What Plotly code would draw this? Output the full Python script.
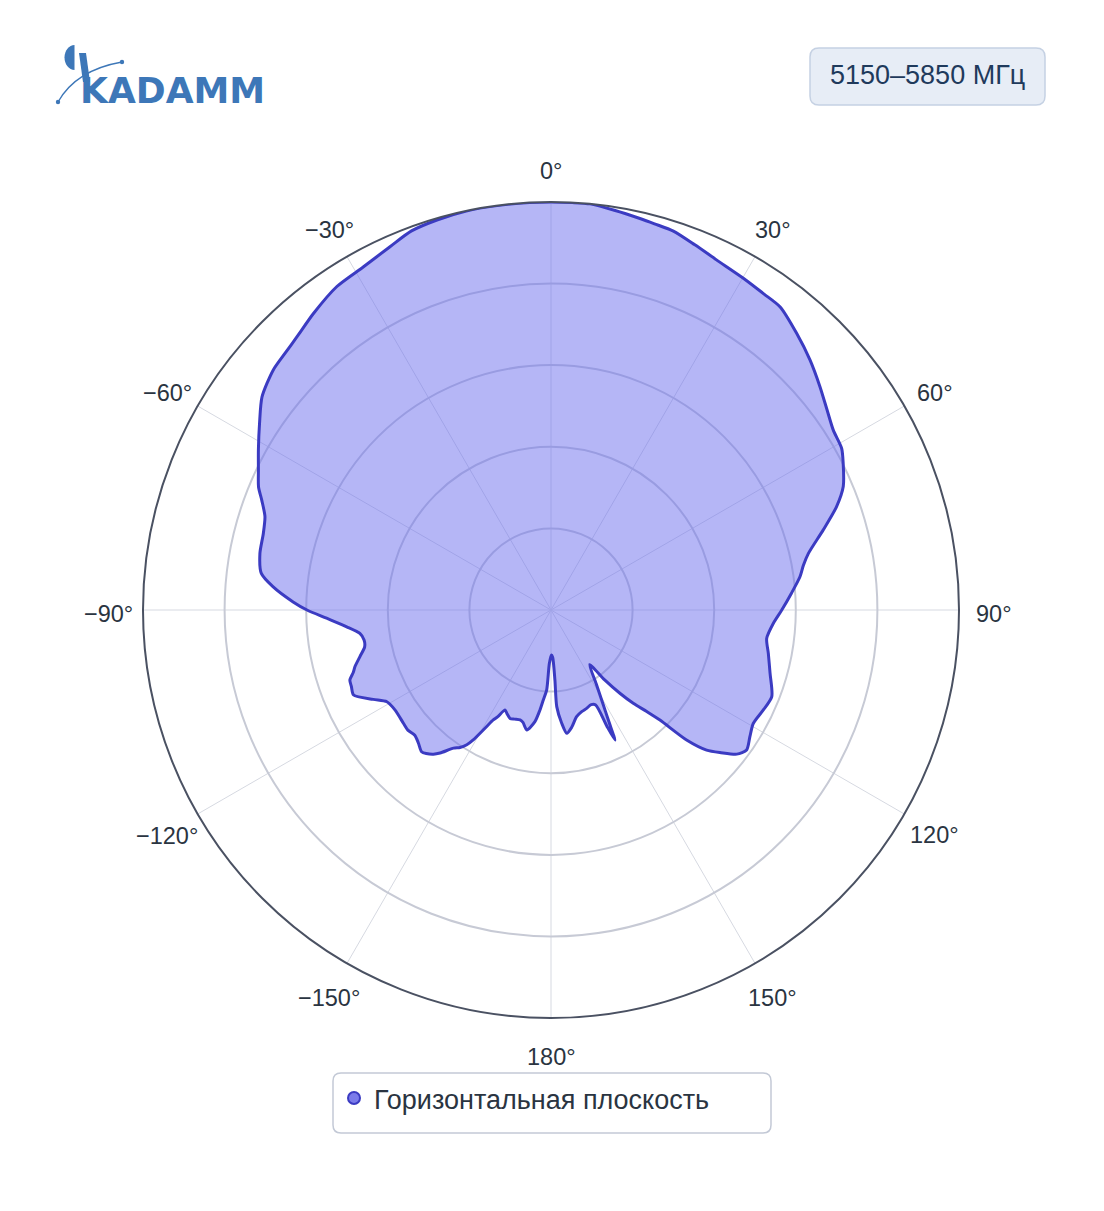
import math
import plotly.graph_objects as go

W, H = 1104, 1211

# ---- data (gain, dB, normalised) ----
theta_right = [0, 3, 5.5, 9, 12.8, 15, 17.9, 21.5, 25.3, 30.1, 34, 37.1, 41.6, 46, 50.3, 54, 57.5,
               60.9, 63.3, 67.1, 70.1, 73.6, 77.6, 80, 82.4, 86, 90, 93.4, 97.5, 101.3, 106.1, 111.4,
               115.2, 119.3, 122.5, 125.6, 127.8, 130, 132, 133.8, 135.3, 136.7, 138.6, 140.4, 142.5,
               144.7, 148.5, 150.9, 152.6, 153.8, 154.3, 154.8, 157, 160.1, 163, 166.5, 170, 172.7,
               174.6, 176.6, 176.8, 178, 179.5]
gain_right = [0, 0, 0, -0.2, -0.4, -0.5, -0.6, -0.95, -1.27, -1.5, -1.65, -1.72, -2.33, -2.94, -3.58,
              -4.1, -4.49, -4.62, -4.96, -5.56, -6.39, -7.61, -8.85, -9.3, -9.61, -10.23, -10.86,
              -11.35, -11.67, -11.42, -11.03, -10.47, -10.62, -10.79, -10.55, -10.26, -10.59, -11.4,
              -12.17, -13.49, -15.51, -16.45, -17.38, -18.38, -19.6, -20.9, -19.7, -18.5, -17.3,
              -16.12, -17.1, -18.57, -18.7, -18.59, -18.5, -18.28, -17.7, -17.38, -18.03, -19.07,
              -20.7, -22.1, -22.24]
theta_left = [-178.2, -176.9, -175.1, -173.7, -171.8, -168.6, -166, -164.3, -161.5, -159.3, -157,
              -155.3, -153.5, -152.3, -151.1, -149.1, -148, -146.5, -144.8, -142.2, -140.8, -139,
              -137.6, -135, -132.6, -130, -127.5, -122.7, -119.2, -116.7, -113.3, -111, -109.2,
              -107.5, -106.1, -103.7, -101.2, -99.1, -97, -94.7, -92.1, -90, -88.2, -85.2, -82.8,
              -79, -75.1, -71.9, -69.2, -67.2, -64.4, -61.3, -57.4, -53.6, -49.2, -46, -42.9, -38.7,
              -33.5, -28.7, -23.9, -20.2, -16.3, -12, -7.6, -3, 0]
gain_left = [-21.7, -20.1, -19.47, -18.84, -18.09, -17.5, -17.9, -18.0, -17.95, -17.9, -18.1, -18.26,
             -17.7, -17.39, -16.85, -15.72, -15.26, -14.9, -14.64, -13.91, -13.6, -13.35, -13.24,
             -13.5, -13.66, -13.55, -13.6, -13.65, -13.48, -12.81, -11.83, -11.9, -11.95, -12.3,
             -12.5, -12.95, -13.36, -13.4, -13.2, -12.44, -11.24, -10.05, -9.19, -7.9, -7.11, -6.83,
             -6.76, -6.56, -6.04, -5.56, -5.12, -4.56, -3.8, -3.0, -2.51, -2.35, -2.14, -1.72,
             -1.23, -1.04, -0.65, -0.25, -0.1, 0, 0, 0, 0]

angle_ticks = [0, 30, 60, 90, 120, 150, 180, 210, 240, 270, 300, 330]
angle_labels = ["0°", "30°", "60°", "90°", "120°", "150°", "180°",
                "−150°", "−120°", "−90°", "−60°", "−30°"]
radial_ticks = [-20, -15, -10, -5, 0]
series_name = "Горизонтальная плоскость"
band_label = "5150–5850 МГц"
logo_text = "KADAMM"

theta = theta_right + theta_left
gain = gain_right + gain_left


def px(x):
    return x / W


def py(y):
    return 1 - y / H


def rrect(x0, y0, x1, y1, r):
    pts = [
        f"M {px(x0 + r)},{py(y0)}",
        f"L {px(x1 - r)},{py(y0)}",
        f"Q {px(x1)},{py(y0)} {px(x1)},{py(y0 + r)}",
        f"L {px(x1)},{py(y1 - r)}",
        f"Q {px(x1)},{py(y1)} {px(x1 - r)},{py(y1)}",
        f"L {px(x0 + r)},{py(y1)}",
        f"Q {px(x0)},{py(y1)} {px(x0)},{py(y1 - r)}",
        f"L {px(x0)},{py(y0 + r)}",
        f"Q {px(x0)},{py(y0)} {px(x0 + r)},{py(y0)}",
        "Z",
    ]
    return " ".join(pts)


FONT = "Liberation Sans, Arial, sans-serif"
TXT = "#2a3441"
BLUE = "#3d77b8"

fig = go.Figure()
fig.add_trace(go.Scatterpolar(
    r=gain, theta=theta, mode="lines", fill="toself",
    fillcolor="rgba(108,110,238,0.5)",
    line=dict(color="#3b3bc2", width=3, shape="spline", smoothing=0.7),
    showlegend=False, hoverinfo="skip",
))
fig.add_trace(go.Scatterpolar(
    r=[None], theta=[None], mode="markers", name=series_name,
    marker=dict(size=12, color="#7b7bea", line=dict(color="#3b3bc2", width=2)),
    showlegend=True,
))

# polar frame in pixels: centre (551,610), radius 408
cx, cy, R = 551, 610, 408

shapes = [
    dict(type="path", xref="paper", yref="paper", path=rrect(810, 48, 1045, 105, 9),
         fillcolor="#e7edf6", line=dict(color="#c5d1e3", width=1.5), layer="below"),
    dict(type="path", xref="paper", yref="paper", path=rrect(333, 1073, 771, 1133, 8),
         fillcolor="rgba(0,0,0,0)", line=dict(color="#c3c9d6", width=1.5), layer="below"),
]

# logo decorations
ecx, ecy, erx, ery = 74.5, 57.5, 10, 12.5
k = 0.5523
half_disc = (f"M {px(ecx)},{py(ecy - ery)} "
             f"C {px(ecx - k * erx)},{py(ecy - ery)} {px(ecx - erx)},{py(ecy - k * ery)} {px(ecx - erx)},{py(ecy)} "
             f"C {px(ecx - erx)},{py(ecy + k * ery)} {px(ecx - k * erx)},{py(ecy + ery)} {px(ecx)},{py(ecy + ery)} Z")
shapes.append(dict(type="path", xref="paper", yref="paper", path=half_disc,
                   fillcolor=BLUE, line=dict(width=0)))
stem = (f"M {px(79)},{py(53)} L {px(86)},{py(53)} L {px(90)},{py(82)} L {px(83)},{py(82)} Z")
shapes.append(dict(type="path", xref="paper", yref="paper", path=stem,
                   fillcolor=BLUE, line=dict(width=0)))
arc = f"M {px(58)},{py(102)} Q {px(76)},{py(70)} {px(122)},{py(62)}"
shapes.append(dict(type="path", xref="paper", yref="paper", path=arc,
                   line=dict(color=BLUE, width=1.3)))
for (dx_, dy_) in [(58, 102), (122, 62)]:
    shapes.append(dict(type="circle", xref="paper", yref="paper",
                       x0=px(dx_ - 2.2), x1=px(dx_ + 2.2), y0=py(dy_ - 2.2), y1=py(dy_ + 2.2),
                       fillcolor=BLUE, line=dict(width=0)))

annotations = [
    dict(text=band_label, x=px(927.5), y=py(75), xref="paper", yref="paper",
         showarrow=False, font=dict(family=FONT, size=27, color="#1f3a5c"),
         xanchor="center", yanchor="middle"),
    dict(text=f"<b>{logo_text}</b>", x=px(78), y=py(90), xref="paper", yref="paper",
         showarrow=False, font=dict(family="DejaVu Sans, sans-serif", size=36, color=BLUE),
         xanchor="left", yanchor="middle"),
]

# angular tick labels, centred on their spoke just outside the frame
LABEL_DIST = 443
for a, lab in zip(angle_ticks, angle_labels):
    ar = math.radians(a)
    lx = cx + LABEL_DIST * math.sin(ar)
    ly = cy - LABEL_DIST * math.cos(ar) + 4
    annotations.append(dict(text=lab, x=px(lx), y=py(ly), xref="paper", yref="paper",
                            showarrow=False, xanchor="center", yanchor="middle",
                            font=dict(family=FONT, size=23.5, color=TXT)))

fig.update_layout(
    width=W, height=H,
    margin=dict(l=0, r=0, t=0, b=0),
    paper_bgcolor="white",
    font=dict(family=FONT, color=TXT),
    polar=dict(
        domain=dict(x=[px(cx - R), px(cx + R)], y=[py(cy + R), py(cy - R)]),
        bgcolor="white",
        angularaxis=dict(
            direction="clockwise", rotation=90,
            tickmode="array", tickvals=angle_ticks, ticktext=angle_labels,
            showticklabels=False, ticks="",
            showline=True, linecolor="#4a5162", linewidth=2,
            gridcolor="#d6d9e1", gridwidth=1,
        ),
        radialaxis=dict(
            range=[-25, 0], tickmode="array", tickvals=radial_ticks,
            showticklabels=False, ticks="", showline=False,
            gridcolor="#c7cad5", gridwidth=1.5,
        ),
    ),
    legend=dict(
        x=px(334), y=py(1074), xanchor="left", yanchor="top",
        bgcolor="rgba(0,0,0,0)", borderwidth=0,
        font=dict(family=FONT, size=27, color=TXT),
    ),
    shapes=shapes,
    annotations=annotations,
)

fig.write_html("out.html")
